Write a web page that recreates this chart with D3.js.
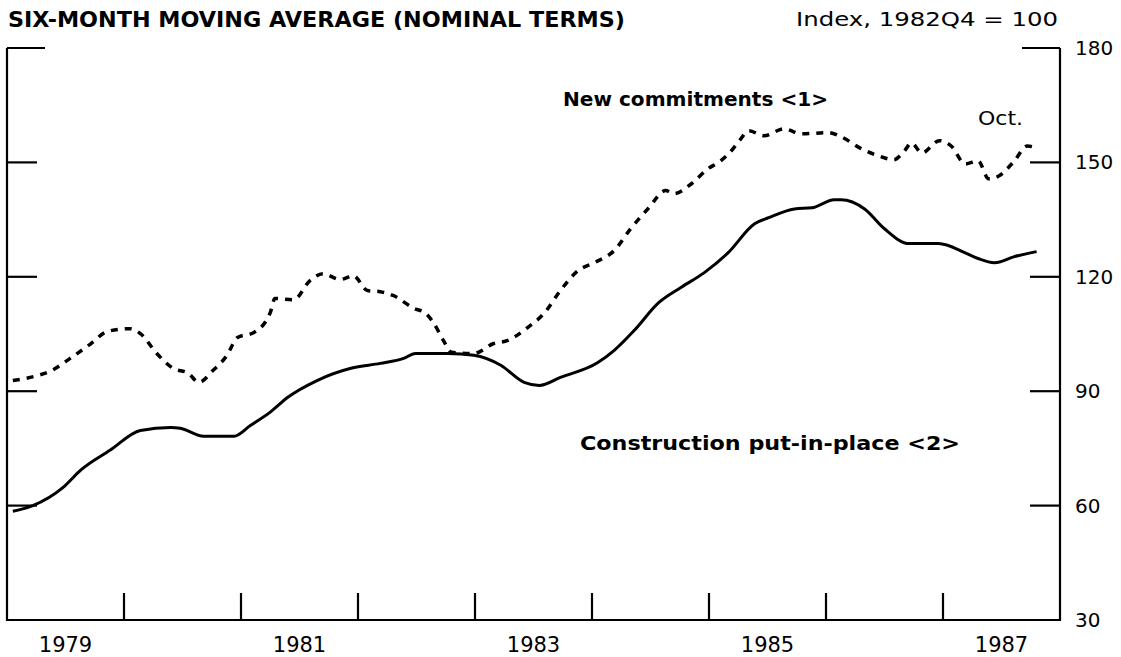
<!DOCTYPE html>
<html><head><meta charset="utf-8">
<script src="https://cdn.jsdelivr.net/npm/d3@7"></script>
<style>
html,body{margin:0;padding:0;background:#fff;}
svg{display:block;}
text{font-family:"DejaVu Sans",sans-serif;fill:#000;}
</style></head>
<body>
<svg id="c" width="1121" height="657"></svg>
<script>
// ---- data ----
const yearLabels = ["1979","1981","1983","1985","1987"];
const yearLabelPos = [1979.5,1981.5,1983.5,1985.5,1987.5];
const yearTicks = [1980,1981,1982,1983,1984,1985,1986,1987];
const yTicks = [30,60,90,120,150,180];

const constrT = [1979.05,1979.22,1979.48,1979.63,1979.88,1980.14,1980.40,1980.48,1980.68,1980.94,1981.08,1981.25,1981.40,1981.65,1981.94,1982.19,1982.39,1982.49,1982.77,1982.99,1983.22,1983.42,1983.55,1983.73,1984.05,1984.19,1984.36,1984.57,1984.76,1984.96,1985.16,1985.39,1985.51,1985.73,1985.88,1986.07,1986.13,1986.33,1986.50,1986.71,1986.96,1987.19,1987.30,1987.44,1987.61,1987.80];
const constrV = [58.5,60.0,64.8,69.3,74.5,79.7,80.5,80.3,78.2,78.2,81.0,84.5,88.4,92.8,96.0,97.3,98.6,99.9,99.9,99.4,96.8,92.3,91.5,93.6,97.5,100.7,105.9,113.2,117.2,121.1,126.2,133.9,135.5,137.8,138.1,140.2,140.2,137.8,132.6,128.7,128.7,126.3,124.8,123.7,125.3,126.6];

const commitT = [1979.05,1979.26,1979.38,1979.54,1979.71,1979.86,1980.05,1980.14,1980.28,1980.42,1980.55,1980.64,1980.76,1980.88,1980.97,1981.11,1981.25,1981.29,1981.45,1981.59,1981.70,1981.85,1981.96,1982.08,1982.19,1982.30,1982.48,1982.58,1982.65,1982.73,1982.80,1982.99,1983.16,1983.28,1983.45,1983.59,1983.73,1983.88,1984.02,1984.19,1984.33,1984.48,1984.63,1984.70,1984.85,1984.99,1985.10,1985.19,1985.26,1985.34,1985.47,1985.64,1985.79,1986.02,1986.13,1986.30,1986.45,1986.58,1986.67,1986.73,1986.82,1986.97,1987.07,1987.19,1987.30,1987.39,1987.48,1987.61,1987.72,1987.80];
const commitV = [92.8,94.1,95.4,98.6,102.3,105.7,106.4,105.1,99.9,96.0,94.7,92.3,95.4,99.4,104.1,105.4,110.6,114.3,114.0,119.0,120.8,119.3,120.3,116.4,116.1,115.1,111.7,110.4,107.7,103.3,100.2,99.9,102.5,103.3,106.7,110.4,116.4,121.6,123.7,126.9,132.6,137.9,142.6,141.8,144.4,148.3,150.4,153.0,155.7,158.3,157.0,158.8,157.5,157.8,156.7,153.6,151.7,150.7,153.0,155.1,152.5,155.7,154.3,149.6,150.4,145.7,146.5,150.4,154.3,153.8];

const titleText = "SIX-MONTH MOVING AVERAGE (NOMINAL TERMS)";
const unitText = "Index, 1982Q4 = 100";
const commitLabel = "New commitments <1>";
const constrLabel = "Construction put-in-place <2>";
const endLabel = "Oct.";

// ---- layout ----
const L = 7, R = 1060, T = 48, B = 620;
const x = d3.scaleLinear().domain([1979,1988]).range([L,R]);
const y = d3.scaleLinear().domain([30,180]).range([B,T]);
const svg = d3.select("#c");

// frame
svg.append("path")
  .attr("d", `M${L},${T}V${B}H${R}V${T}`)
  .attr("fill","none").attr("stroke","#000").attr("stroke-width",2.2);

// y ticks left (inward) and right (inward)
yTicks.filter(v=>v>30).forEach(v=>{
  const len = v===180 ? 38 : 30;
  svg.append("line").attr("x1",L).attr("x2",L+len).attr("y1",y(v)).attr("y2",y(v))
    .attr("stroke","#000").attr("stroke-width",2.2);
  svg.append("line").attr("x1",R-len).attr("x2",R).attr("y1",y(v)).attr("y2",y(v))
    .attr("stroke","#000").attr("stroke-width",2.2);
});
// right axis labels via d3 axis (ticks hidden)
const ax = svg.append("g").attr("transform",`translate(${R},0)`)
  .call(d3.axisRight(y).tickValues(yTicks).tickSize(0).tickPadding(15).tickFormat(d3.format("d")));
ax.select(".domain").remove();
ax.selectAll("text").attr("font-size",20).style("font-family","DejaVu Sans");

// x ticks
yearTicks.forEach(t=>{
  svg.append("line").attr("x1",x(t)).attr("x2",x(t)).attr("y1",B).attr("y2",B-27)
    .attr("stroke","#000").attr("stroke-width",2.2);
});
yearLabels.forEach((s,i)=>{
  svg.append("text").attr("x",x(yearLabelPos[i])).attr("y",652)
    .attr("text-anchor","middle").attr("font-size",21).text(s);
});

// lines
const line = d3.line().x(d=>x(d[0])).y(d=>y(d[1])).curve(d3.curveMonotoneX);
const constrData = constrT.map((t,i)=>[t,constrV[i]]);
const commitData = commitT.map((t,i)=>[t,commitV[i]]);
svg.append("path").attr("d",line(constrData)).attr("fill","none")
  .attr("stroke","#000").attr("stroke-width",3).attr("stroke-linejoin","round");
svg.append("path").attr("d",line(commitData)).attr("fill","none")
  .attr("stroke","#000").attr("stroke-width",3.5).attr("stroke-dasharray","7,7")
  .attr("stroke-linecap","butt");

// texts
svg.append("text").attr("x",8).attr("y",27).attr("font-size",21).attr("font-weight","bold")
  .attr("textLength",617).attr("lengthAdjust","spacingAndGlyphs").text(titleText);
svg.append("text").attr("x",796).attr("y",26).attr("font-size",19)
  .attr("textLength",262).attr("lengthAdjust","spacingAndGlyphs").text(unitText);
svg.append("text").attr("x",563).attr("y",106).attr("font-size",20).attr("font-weight","bold")
  .attr("textLength",265).attr("lengthAdjust","spacingAndGlyphs").text(commitLabel);
svg.append("text").attr("x",580).attr("y",450).attr("font-size",20).attr("font-weight","bold")
  .attr("textLength",380).attr("lengthAdjust","spacingAndGlyphs").text(constrLabel);
svg.append("text").attr("x",978).attr("y",125).attr("font-size",19)
  .attr("textLength",45).attr("lengthAdjust","spacingAndGlyphs").text(endLabel);
</script>
</body></html>
